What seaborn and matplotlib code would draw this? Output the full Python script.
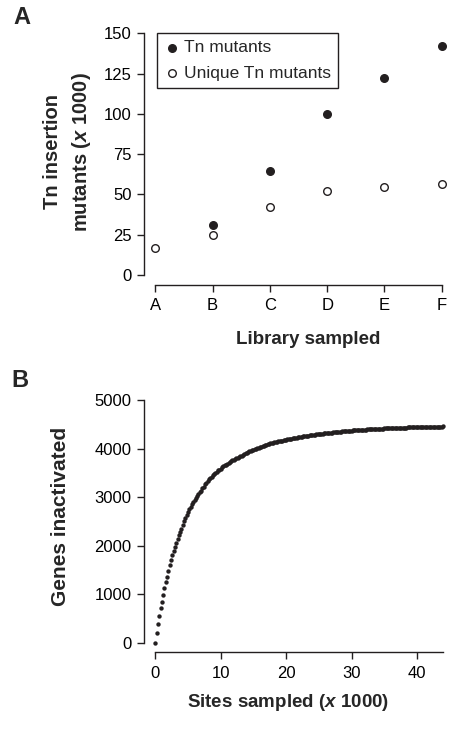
"""Two panel figure: library saturation (A) and gene inactivation curve (B)"""

import matplotlib
matplotlib.use("Agg")
import matplotlib.pyplot as plt
import numpy as np
import pandas as pd
import seaborn as sns

# ---- data ----
libraries = ["A", "B", "C", "D", "E", "F"]
tn_mutants = [np.nan, 31, 64.5, 100, 122.5, 142]
unique_tn_mutants = [17, 25, 42.5, 52, 54.5, 56.5]

# genes inactivated, one value every 200 sites (0 .. 44 x 1000)
sites_step = 0.2
genes_inactivated = [
    0, 194, 385, 550, 709,
    845, 983, 1133, 1251, 1360,
    1484, 1601, 1704, 1807, 1890,
    1965, 2050, 2130, 2215, 2280,
    2350, 2425, 2500, 2560, 2630,
    2700, 2745, 2800, 2850, 2890,
    2935, 2975, 3020, 3060, 3100,
    3135, 3180, 3215, 3260, 3300,
    3335, 3365, 3395, 3420, 3450,
    3470, 3500, 3525, 3550, 3565,
    3585, 3610, 3630, 3655, 3670,
    3690, 3710, 3725, 3745, 3760,
    3770, 3790, 3800, 3815, 3830,
    3840, 3855, 3870, 3885, 3900,
    3915, 3925, 3940, 3950, 3965,
    3980, 3990, 4000, 4010, 4020,
    4030, 4040, 4050, 4060, 4070,
    4080, 4085, 4095, 4105, 4110,
    4120, 4125, 4135, 4140, 4150,
    4155, 4160, 4165, 4175, 4180,
    4185, 4190, 4195, 4200, 4205,
    4210, 4215, 4220, 4225, 4230,
    4235, 4240, 4245, 4250, 4255,
    4258, 4262, 4266, 4270, 4274,
    4278, 4282, 4286, 4290, 4293,
    4297, 4300, 4304, 4307, 4311,
    4314, 4317, 4320, 4324, 4327,
    4330, 4333, 4336, 4339, 4342,
    4345, 4347, 4350, 4352, 4355,
    4357, 4360, 4362, 4364, 4367,
    4370, 4372, 4374, 4376, 4378,
    4380, 4382, 4384, 4386, 4388,
    4390, 4392, 4393, 4395, 4397,
    4399, 4400, 4402, 4403, 4405,
    4406, 4408, 4409, 4411, 4412,
    4413, 4415, 4416, 4417, 4419,
    4420, 4421, 4422, 4423, 4425,
    4426, 4427, 4428, 4429, 4430,
    4431, 4432, 4433, 4434, 4435,
    4436, 4437, 4438, 4438, 4439,
    4440, 4441, 4442, 4443, 4443,
    4444, 4445, 4446, 4446, 4447,
    4448, 4449, 4449, 4450, 4451,
    4451, 4452, 4453, 4453, 4454,
    4455,
]
sites_sampled = np.round(np.arange(len(genes_inactivated)) * sites_step, 1)

y_ticks_a = [0, 25, 50, 75, 100, 125, 150]
y_ticks_b = [0, 1000, 2000, 3000, 4000, 5000]
x_ticks_b = [0, 10, 20, 30, 40]

# ---- style ----
ink = "#231f20"
sns.set_style("ticks")
plt.rcParams.update({
    "font.family": ["Liberation Sans", "DejaVu Sans"],
    "mathtext.fontset": "custom",
    "mathtext.it": "Liberation Sans:italic:bold",
    "mathtext.rm": "Liberation Sans:bold",
    "axes.edgecolor": ink,
    "axes.linewidth": 1.0,
    "xtick.color": ink,
    "ytick.color": ink,
    "xtick.labelcolor": "black",
    "ytick.labelcolor": "black",
    "xtick.major.size": 5,
    "ytick.major.size": 5,
    "xtick.major.width": 1.0,
    "ytick.major.width": 1.0,
    "xtick.labelsize": 12,
    "ytick.labelsize": 12,
})

fig = plt.figure(figsize=(4.54, 7.29), dpi=100)
W, H = 454, 729


def px_axes(x0, x1, ytop, ybot):
    return fig.add_axes([x0 / W, 1 - ybot / H, (x1 - x0) / W, (ybot - ytop) / H])


def style_axes(ax):
    ax.spines["top"].set_visible(False)
    ax.spines["right"].set_visible(False)
    ax.spines["left"].set_position(("outward", 8))
    ax.spines["bottom"].set_position(("outward", 7))
    ax.tick_params(axis="x", pad=4.5)
    ax.tick_params(axis="y", pad=4)


# ---- panel A ----
ax_a = px_axes(155.3, 441.7, 33.3, 275)
df_a = pd.DataFrame({"library": libraries, "tn": tn_mutants, "unique": unique_tn_mutants})
sns.scatterplot(data=df_a, x="library", y="unique", ax=ax_a, s=30, color="white",
                edgecolor=ink, linewidth=1.0, label="Unique Tn mutants", clip_on=False, zorder=3)
sns.scatterplot(data=df_a.dropna(), x="library", y="tn", ax=ax_a, s=30, color=ink,
                edgecolor=ink, linewidth=1.0, label="Tn mutants", clip_on=False, zorder=3)
ax_a.set_xlim(0, 5)
ax_a.set_ylim(0, 150)
ax_a.set_yticks(y_ticks_a)
style_axes(ax_a)
ax_a.spines["left"].set_bounds(0, 150)
ax_a.spines["bottom"].set_bounds(0, 5)

handles, labels = ax_a.get_legend_handles_labels()
leg = ax_a.legend(handles[::-1], labels[::-1], loc="upper left", bbox_to_anchor=(0.006, 1.0),
                  borderaxespad=0, fontsize=12.5, frameon=True, fancybox=False,
                  handlelength=0.88, handletextpad=0.25, borderpad=0.4, labelspacing=0.6)
leg.get_frame().set_edgecolor(ink)
leg.get_frame().set_linewidth(1.0)
leg.get_frame().set_alpha(1)

ax_a.set_xlabel("Library sampled", fontsize=13.5, fontweight="bold", va="center")
ax_a.xaxis.set_label_coords(0.533, -0.265)
ax_a.set_ylabel("Tn insertion\nmutants ($x$ 1000)", fontsize=14.5, fontweight="bold",
                va="center", linespacing=1.45)
ax_a.yaxis.set_label_coords(-0.305, 0.509)

# ---- panel B ----
ax_b = px_axes(155.3, 443.1, 400, 642.7)
sns.scatterplot(x=sites_sampled, y=genes_inactivated, ax=ax_b, s=10, color=ink,
                linewidth=0, clip_on=False)
ax_b.set_xlim(0, 44)
ax_b.set_ylim(0, 5000)
ax_b.set_xticks(x_ticks_b)
ax_b.set_yticks(y_ticks_b)
style_axes(ax_b)
ax_b.spines["left"].set_bounds(0, 5000)
ax_b.spines["bottom"].set_bounds(0, 44)

ax_b.set_xlabel("Sites sampled ($x$ 1000)", fontsize=13.5, fontweight="bold", va="center")
ax_b.xaxis.set_label_coords(0.461, -0.248)
ax_b.set_ylabel("Genes inactivated", fontsize=15, fontweight="bold", va="center")
ax_b.yaxis.set_label_coords(-0.331, 0.522)

# panel letters
fig.text(22 / W, 1 - 18 / H, "A", fontsize=17, fontweight="bold", ha="center", va="center")
fig.text(20 / W, 1 - 381 / H, "B", fontsize=17, fontweight="bold", ha="center", va="center")

fig.savefig("out.png", dpi=100)
plt.close(fig)
